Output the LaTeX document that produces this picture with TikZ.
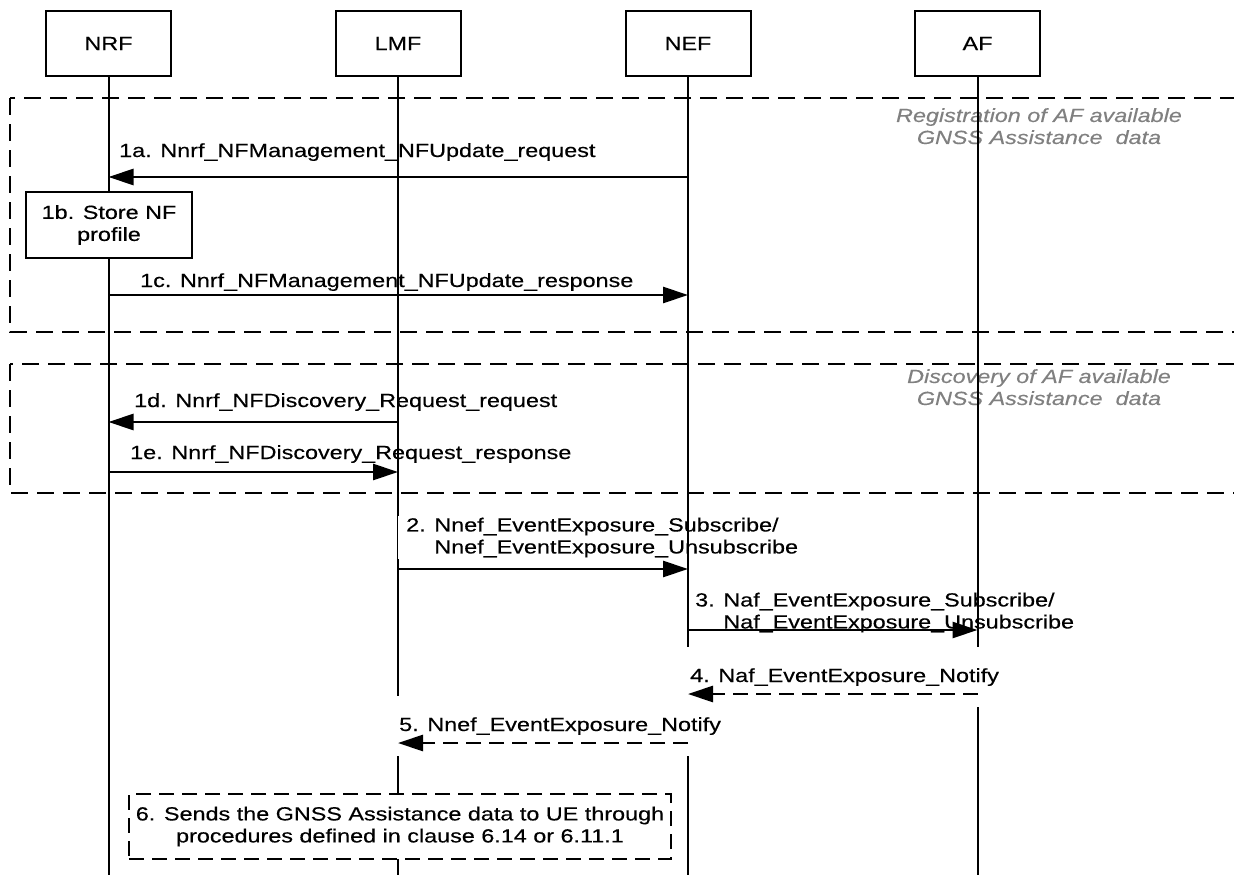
\documentclass[tikz,border=0pt]{standalone}
\usepackage{fontspec}
\setmainfont{Liberation Sans}[FakeStretch=1.23, FakeBold=0.35]
\usetikzlibrary{arrows.meta}
\begin{document}
\begin{tikzpicture}[x=1pt,y=-1pt,
  every node/.style={font=\fontsize{19}{22}\selectfont, inner sep=0pt},
  hdr/.style={draw, line width=2pt, minimum width=125pt, minimum height=65pt},
  life/.style={line width=2pt},
  frame/.style={line width=2.2pt, dash pattern=on 17pt off 9pt},
  msg/.style={line width=2.8pt, -{Triangle[length=25pt,width=16pt]}},
  reply/.style={msg, dash pattern=on 15pt off 8pt},
  lbl/.style={anchor=base west},
  mask/.style={fill=white},
  note/.style={text=black!50, font=\fontsize{19}{22}\selectfont\itshape, align=center},
  stepbox/.style={draw, fill=white, line width=2pt, align=center},
]
\useasboundingbox (0,0) rectangle (1234,875);

% grouping frames
\draw[frame] (10,98) rectangle (1234.6,332);
\draw[frame] (10,364) rectangle (1234.6,493);
\node[note, anchor=north] (reg) at (1039,108) {Registration of AF available\\GNSS Assistance\ \ data};
\node[note, anchor=north] (disc) at (1039,369) {Discovery of AF available\\GNSS Assistance\ \ data};

% participants
\node[hdr] (nrf) at (108.5,43.5) {NRF};
\node[hdr] (lmf) at (398,43.5) {LMF};
\node[hdr] (nef) at (688,43.5) {NEF};
\node[hdr] (af) at (977.5,43.5) {AF};
\coordinate (nrfE) at (108.5,876);
\coordinate (lmfE) at (398,876);
\coordinate (nefE) at (688,876);
\coordinate (afE) at (977.5,876);

\draw[life] (lmf.south) -- (lmfE);
\node[mask, align=left, anchor=north west, inner xsep=8pt, inner ysep=2pt] (l2) at (398,515.5)
  {2. Nnef\_EventExposure\_Subscribe/\\\phantom{2. }Nnef\_EventExposure\_Unsubscribe};
\draw[life] (nrf.south) -- (nrfE);
\draw[life] (nef.south) -- (nefE);
\draw[life] (af.south) -- (afE);

\node[align=left, anchor=north west] (l3) at (695,592.5)
  {3. Naf\_EventExposure\_Subscribe/\\\phantom{3. }Naf\_EventExposure\_Unsubscribe};
\node[mask, anchor=base west, minimum height=60pt, inner xsep=4pt] (l4) at (686,682) {4. Naf\_EventExposure\_Notify};
\node[mask, anchor=base west, minimum height=60pt, inner xsep=3pt] (l5) at (396,731) {5. Nnef\_EventExposure\_Notify};

% local steps
\node[stepbox, minimum width=166pt, minimum height=66pt] (s1b) at (109,225) {1b. Store NF\\profile};
\node[stepbox, line width=1.6pt, dash pattern=on 15pt off 8pt, minimum width=542pt, minimum height=65pt] (s6) at (400,826.5)
  {6. Sends the GNSS Assistance data to UE through\\procedures defined in clause 6.14 or 6.11.1};

% messages
\node[lbl] (t1a) at (119,157) {1a. Nnrf\_NFManagement\_NFUpdate\_request};
\draw[msg] (nef.south |- 0,177) -- (nrf.south |- 0,177);
\node[lbl] (t1c) at (140,287) {1c. Nnrf\_NFManagement\_NFUpdate\_response};
\draw[msg] (nrf.south |- 0,295) -- (nef.south |- 0,295);
\node[lbl] (t1d) at (134,407) {1d. Nnrf\_NFDiscovery\_Request\_request};
\draw[msg] (lmf.south |- 0,422) -- (nrf.south |- 0,422);
\node[lbl] (t1e) at (130,459) {1e. Nnrf\_NFDiscovery\_Request\_response};
\draw[msg] (nrf.south |- 0,472) -- (lmf.south |- 0,472);
\draw[msg] (lmf.south |- 0,569) -- (nef.south |- 0,569);
\draw[msg] (nef.south |- 0,630) -- (af.south |- 0,630);
\draw[reply] (af.south |- 0,694) -- (nef.south |- 0,694);
\draw[reply] (nef.south |- 0,743) -- (lmf.south |- 0,743);
\end{tikzpicture}
\end{document}
